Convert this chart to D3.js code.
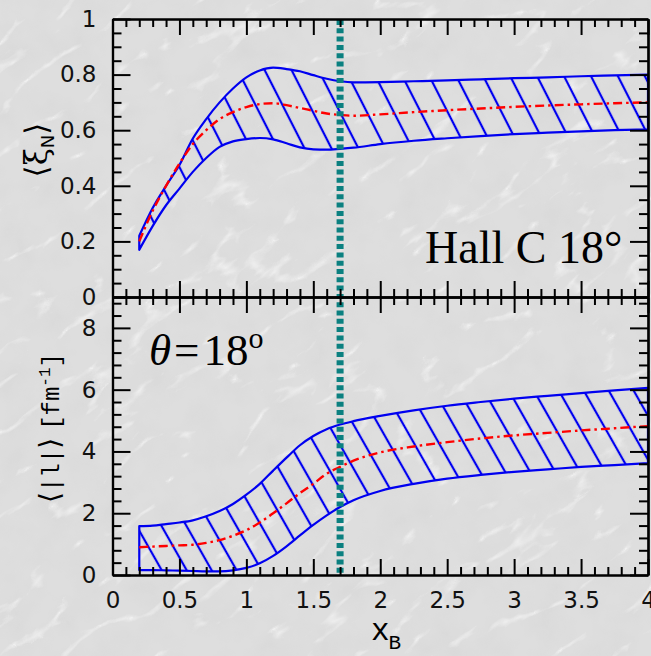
<!DOCTYPE html>
<html>
<head>
<meta charset="utf-8">
<script src="https://cdn.jsdelivr.net/npm/d3@7"></script>
<style>
  body { margin: 0; background: #dcdcdc; }
  svg { display: block; }
</style>
</head>
<body>
<div id="container"></div>
<script>

let w = 651;
let h = 656;

// x_B grid the curves were read on
let xB = [0.2, 0.3, 0.4, 0.5, 0.6, 0.7, 0.8, 0.9, 1.0, 1.1, 1.2, 1.3, 1.4, 1.5, 1.6, 1.7, 1.8, 2.0, 2.25, 2.5, 2.75, 3.0, 3.25, 3.5, 3.75, 4.0];

// <xi_N> band, top panel
let xiUpper   = [0.22, 0.32, 0.40, 0.475, 0.57, 0.64, 0.70, 0.75, 0.79, 0.815, 0.825, 0.82, 0.812, 0.798, 0.785, 0.776, 0.772, 0.773, 0.776, 0.779, 0.783, 0.787, 0.790, 0.794, 0.797, 0.80];
let xiLower   = [0.17, 0.255, 0.33, 0.39, 0.45, 0.50, 0.54, 0.56, 0.568, 0.572, 0.567, 0.553, 0.538, 0.531, 0.530, 0.533, 0.537, 0.550, 0.562, 0.571, 0.579, 0.586, 0.591, 0.596, 0.600, 0.603];
let xiCentral = [0.20, 0.31, 0.40, 0.48, 0.55, 0.60, 0.64, 0.665, 0.683, 0.694, 0.697, 0.69, 0.68, 0.67, 0.66, 0.655, 0.652, 0.657, 0.665, 0.672, 0.678, 0.684, 0.689, 0.693, 0.697, 0.70];

// <|l|> band in fm^-1, bottom panel
let lUpper   = [1.58, 1.60, 1.65, 1.70, 1.77, 1.90, 2.07, 2.30, 2.60, 2.95, 3.38, 3.80, 4.20, 4.50, 4.72, 4.87, 4.98, 5.15, 5.33, 5.48, 5.60, 5.71, 5.80, 5.89, 5.98, 6.06];
let lLower   = [0.16, 0.16, 0.15, 0.14, 0.13, 0.12, 0.12, 0.15, 0.23, 0.38, 0.62, 0.93, 1.28, 1.62, 1.93, 2.20, 2.42, 2.72, 2.95, 3.12, 3.24, 3.34, 3.42, 3.50, 3.56, 3.62];
let lCentral = [0.90, 0.92, 0.94, 0.96, 0.98, 1.04, 1.13, 1.27, 1.45, 1.70, 2.00, 2.32, 2.65, 2.95, 3.28, 3.50, 3.70, 3.97, 4.16, 4.30, 4.42, 4.52, 4.60, 4.68, 4.75, 4.82];

// vertical marker
let xMark = 1.7;

// ticks
let xTicks = [0, 0.5, 1, 1.5, 2, 2.5, 3, 3.5, 4];
let xiTicks = [0, 0.2, 0.4, 0.6, 0.8, 1];
let lTicks = [0, 2, 4, 6, 8];

let viz = d3.select("#container")
  .append("svg")
    .attr("width", w)
    .attr("height", h)
;

let defs = viz.append("defs");

// marble-ish backdrop
let filt = defs.append("filter").attr("id", "marble")
  .attr("x", 0).attr("y", 0).attr("width", "100%").attr("height", "100%");
filt.append("feTurbulence").attr("type", "turbulence")
  .attr("baseFrequency", "0.009 0.022").attr("numOctaves", 4).attr("seed", 5);
filt.append("feColorMatrix").attr("type", "matrix")
  .attr("values", "0 0 0 0 1  0 0 0 0 1  0 0 0 0 1  -5 0 0 0 0.8");

let mottle = defs.append("filter").attr("id", "mottle")
  .attr("x", 0).attr("y", 0).attr("width", "100%").attr("height", "100%");
mottle.append("feTurbulence").attr("type", "fractalNoise")
  .attr("baseFrequency", "0.03").attr("numOctaves", 3).attr("seed", 2);
mottle.append("feColorMatrix").attr("type", "matrix")
  .attr("values", "0 0 0 0 0.6  0 0 0 0 0.6  0 0 0 0 0.6  0.9 0 0 0 -0.35");

viz.append("rect").attr("width", w).attr("height", h).attr("fill", "#dedede");
viz.append("rect").attr("width", w).attr("height", h)
  .attr("filter", "url(#mottle)").attr("opacity", 0.5);
viz.append("g").attr("transform", "rotate(-35," + w/2 + "," + h/2 + ")")
  .append("rect")
    .attr("x", -300).attr("y", -300).attr("width", w + 600).attr("height", h + 600)
    .attr("filter", "url(#marble)")
    .attr("opacity", 0.7);

// hatching
function hatch(id, size, angle){
  let p = defs.append("pattern").attr("id", id)
    .attr("patternUnits", "userSpaceOnUse")
    .attr("width", size).attr("height", size)
    .attr("patternTransform", "rotate(" + angle + ")");
  p.append("line")
    .attr("x1", size/2).attr("y1", 0).attr("x2", size/2).attr("y2", size)
    .attr("stroke", "#0000f0").attr("stroke-width", 2.2);
}
hatch("hatchTop", 24, -27);
hatch("hatchBot", 21.7, -29.6);

//scales

let xScale = d3.scaleLinear().domain([0, 4]).range([112.5, 648]);
let yTop = d3.scaleLinear().domain([0, 1]).range([297, 19]);
let yBot = d3.scaleLinear().domain([0, 9]).range([575, 297]);

function band(yScale, lo, hi, mid, patId){
  let rows = xB.map((x, i) => ({x: x, lo: lo[i], hi: hi[i], mid: mid[i]}));
  let area = d3.area()
    .x(d => xScale(d.x))
    .y0(d => yScale(d.lo))
    .y1(d => yScale(d.hi))
    .curve(d3.curveMonotoneX);
  let line = d3.line()
    .x(d => xScale(d.x))
    .y(d => yScale(d.mid))
    .curve(d3.curveMonotoneX);

  let g = viz.append("g").attr("class", "band");
  g.append("path").datum(rows)
    .attr("d", area)
    .attr("fill", "url(#" + patId + ")")
    .attr("stroke", "#0000f0")
    .attr("stroke-width", 2.2)
    .attr("stroke-linejoin", "round");
  g.append("path").datum(rows)
    .attr("d", line)
    .attr("fill", "none")
    .attr("stroke", "#ff0000")
    .attr("stroke-width", 2.4)
    .attr("stroke-dasharray", "9,4,2.5,4");
}

band(yTop, xiLower, xiUpper, xiCentral, "hatchTop");
band(yBot, lLower, lUpper, lCentral, "hatchBot");

// dashed marker line through both panels
viz.append("line")
  .attr("x1", xScale(xMark)).attr("x2", xScale(xMark))
  .attr("y1", yTop(1) + 1).attr("y2", yBot(0) - 1)
  .attr("stroke", "#0b8080")
  .attr("stroke-width", 7)
  .attr("stroke-dasharray", "5,3.3");

//axes, ticks on the inside on all four sides

let xMinor = d3.range(0, 4.0001, 0.1).filter(v => Math.abs(v*2 - Math.round(v*2)) > 1e-6);
let fmt = d3.format("~g");

function frame(yScale, yMajor, yMinor, showX){
  let g = viz.append("g").attr("class", "frame");
  let y0 = yScale.range()[0], y1 = yScale.range()[1];
  let x0 = xScale.range()[0], x1 = xScale.range()[1];

  let parts = [
    [d3.axisBottom(xScale).tickValues(xTicks).tickSize(-16).tickPadding(17).tickFormat(showX ? fmt : ""), "translate(0," + y0 + ")"],
    [d3.axisBottom(xScale).tickValues(xMinor).tickSize(-8).tickFormat(""), "translate(0," + y0 + ")"],
    [d3.axisTop(xScale).tickValues(xTicks).tickSize(-16).tickFormat(""), "translate(0," + y1 + ")"],
    [d3.axisTop(xScale).tickValues(xMinor).tickSize(-8).tickFormat(""), "translate(0," + y1 + ")"],
    [d3.axisLeft(yScale).tickValues(yMajor).tickSize(-18).tickPadding(16).tickFormat(fmt), "translate(" + x0 + ",0)"],
    [d3.axisLeft(yScale).tickValues(yMinor).tickSize(-9).tickFormat(""), "translate(" + x0 + ",0)"],
    [d3.axisRight(yScale).tickValues(yMajor).tickSize(-18).tickFormat(""), "translate(" + x1 + ",0)"],
    [d3.axisRight(yScale).tickValues(yMinor).tickSize(-9).tickFormat(""), "translate(" + x1 + ",0)"]
  ];
  parts.forEach(p => {
    let a = g.append("g").attr("transform", p[1]).call(p[0].tickSizeOuter(0));
    a.selectAll("line").attr("stroke", "#000").attr("stroke-width", 2);
    a.select(".domain").attr("stroke", "#000").attr("stroke-width", 2.2);
    a.selectAll("text")
      .attr("fill", "#111")
      .style("font-family", "'DejaVu Sans', sans-serif")
      .style("font-size", "23px");
  });
}

frame(yTop, xiTicks, d3.range(0, 1.0001, 0.05).filter(v => Math.abs(v*5 - Math.round(v*5)) > 1e-6), false);
frame(yBot, lTicks, d3.range(0, 9.0001, 0.4).filter(v => Math.abs(v/2 - Math.round(v/2)) > 1e-6), true);

//labels

viz.append("text")
  .attr("x", 425).attr("y", 263)
  .style("font-family", "'Liberation Serif', serif")
  .style("font-size", "46px")
  .attr("fill", "#000")
  .text("Hall C 18°");

let th = viz.append("text")
  .attr("x", 149).attr("y", 365)
  .style("font-family", "'Liberation Serif', serif")
  .style("font-size", "45px")
  .attr("fill", "#000");
th.append("tspan").style("font-style", "italic").text("θ");
th.append("tspan").attr("dx", 3).text("=");
th.append("tspan").attr("dx", 4).text("18");
th.append("tspan").attr("dy", -17).style("font-size", "30px").text("o");

let xl = viz.append("text")
  .attr("x", 371).attr("y", 640)
  .style("font-family", "'Liberation Mono', monospace")
  .style("font-size", "31px")
  .attr("fill", "#000");
xl.append("tspan").text("x");
xl.append("tspan").attr("dy", 9).attr("dx", -1).style("font-size", "21px").text("B");

let yl1 = viz.append("text")
  .attr("transform", "translate(47,150) rotate(-90)")
  .attr("text-anchor", "middle")
  .style("font-family", "'DejaVu Serif', serif")
  .style("font-size", "31px")
  .attr("fill", "#000");
yl1.append("tspan").text("⟨ξ");
yl1.append("tspan").attr("dy", 7).style("font-size", "18px").style("font-family", "'DejaVu Sans', sans-serif").text("N");
yl1.append("tspan").attr("dy", -7).text("⟩");

let yl2 = viz.append("text")
  .attr("transform", "translate(59,428) rotate(-90)")
  .attr("text-anchor", "middle")
  .style("font-family", "'Liberation Mono', monospace")
  .style("font-size", "24px")
  .attr("fill", "#000");
yl2.append("tspan").style("font-family", "'DejaVu Sans', sans-serif").style("font-size", "28px").text("⟨");
yl2.append("tspan").text("|l|");
yl2.append("tspan").style("font-family", "'DejaVu Sans', sans-serif").style("font-size", "28px").text("⟩");
yl2.append("tspan").attr("dx", 8).text("[fm");
yl2.append("tspan").attr("dy", -9).style("font-size", "16px").text("-1");
yl2.append("tspan").attr("dy", 9).text("]");

</script>
</body>
</html>
